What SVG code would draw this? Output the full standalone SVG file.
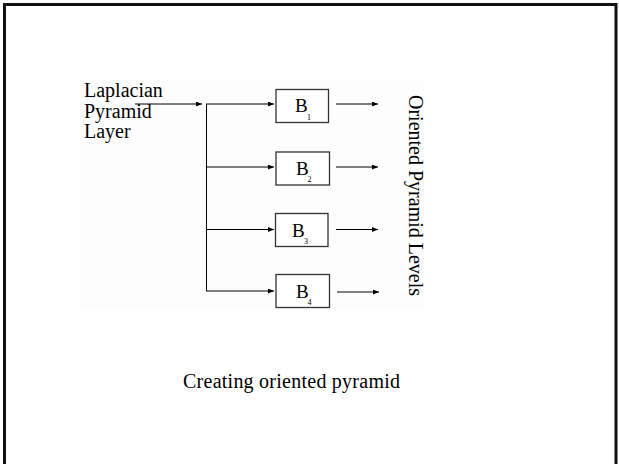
<svg xmlns="http://www.w3.org/2000/svg" width="619" height="464" viewBox="0 0 619 464">
<style>
.t{font-family:"Liberation Serif","Times New Roman",serif;fill:#000}
.box{fill:#fff;stroke:#333;stroke-width:1.3}
.ln{stroke:#000;stroke-width:1;fill:none}
</style>
<defs>
<marker id="ah" markerWidth="6" markerHeight="5" refX="6" refY="2.5" orient="auto" markerUnits="userSpaceOnUse">
<path d="M0,0 L6,2.5 L0,5 Z" fill="#000"/>
</marker>
</defs>
<rect x="0" y="0" width="619" height="464" fill="#fff"/>
<path d="M4.5,464 V4.5 H616 V464" fill="none" stroke="#111" stroke-width="3"/>
<rect x="80" y="80" width="344" height="229" fill="#fdfdfd"/>
<g id="input">
<text class="t" x="84" y="97" font-size="20">Laplacian</text>
<text class="t" x="84" y="118" font-size="20">Pyramid</text>
<text class="t" x="84" y="138" font-size="20">Layer</text>
</g>
<g id="connectors">
<line class="ln" x1="135" y1="104" x2="202" y2="104" marker-end="url(#ah)"/>
<line class="ln" x1="206.5" y1="104" x2="206.5" y2="291"/>
<line class="ln" x1="206" y1="104" x2="274" y2="104" marker-end="url(#ah)"/>
<line class="ln" x1="206" y1="167" x2="274" y2="167" marker-end="url(#ah)"/>
<line class="ln" x1="206" y1="229.5" x2="274" y2="229.5" marker-end="url(#ah)"/>
<line class="ln" x1="206" y1="291" x2="274" y2="291" marker-end="url(#ah)"/>
<line class="ln" x1="336" y1="104" x2="378" y2="104" marker-end="url(#ah)"/>
<line class="ln" x1="336" y1="167" x2="378" y2="167" marker-end="url(#ah)"/>
<line class="ln" x1="336" y1="229.5" x2="378" y2="229.5" marker-end="url(#ah)"/>
<line class="ln" x1="337" y1="292" x2="379" y2="292" marker-end="url(#ah)"/>
</g>
<g id="B1">
<rect class="box" x="276" y="89.5" width="52.5" height="33"/>
<text class="t" x="295" y="112" font-size="19">B</text>
<text class="t" x="307" y="119.5" font-size="8">1</text>
</g>
<g id="B2">
<rect class="box" x="276" y="152" width="53.5" height="33"/>
<text class="t" x="296" y="175" font-size="19">B</text>
<text class="t" x="307.5" y="182" font-size="8">2</text>
</g>
<g id="B3">
<rect class="box" x="275.5" y="213.5" width="52.5" height="33"/>
<text class="t" x="292" y="236.5" font-size="19">B</text>
<text class="t" x="304" y="243.5" font-size="8">3</text>
</g>
<g id="B4">
<rect class="box" x="276" y="274.5" width="53.5" height="33"/>
<text class="t" x="296" y="297.5" font-size="19">B</text>
<text class="t" x="307.5" y="304.5" font-size="8">4</text>
</g>
<g id="output">
<text class="t" font-size="20" transform="translate(409,95) rotate(90)">Oriented Pyramid Levels</text>
</g>
<g id="caption">
<text class="t" x="183" y="388" font-size="20" textLength="217">Creating oriented pyramid</text>
</g>
</svg>
